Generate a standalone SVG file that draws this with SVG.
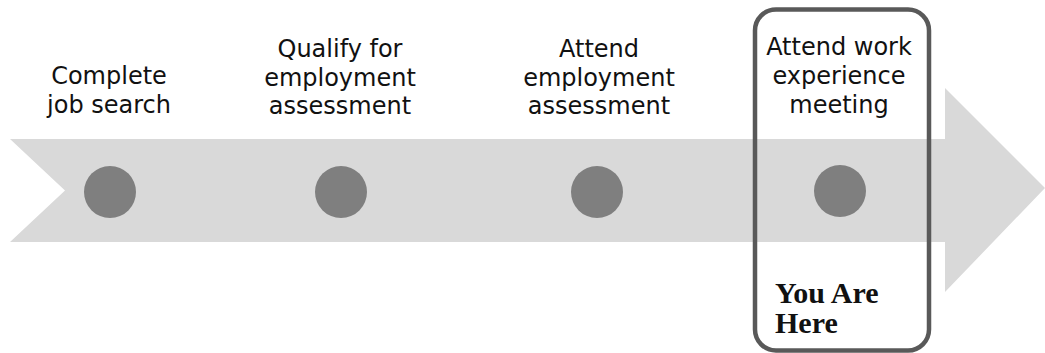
<svg xmlns="http://www.w3.org/2000/svg" width="1045" height="353" viewBox="0 0 1045 353">
<style>
.lbl{font-family:"DejaVu Sans","Open Sans",sans-serif;font-size:24px;fill:#111;text-anchor:middle}
.dot{fill:#7f7f7f}
.here{font-family:"Liberation Serif","Times New Roman",serif;font-size:30px;font-weight:bold;fill:#111}
</style>
<rect width="1045" height="353" fill="#fff"/>
<g id="connectors">
<polygon points="10,139 945,139 945,88 1045,188 945,292 945,242 10,242 65,190.5" fill="#d9d9d9"/>
</g>
<g id="step1">
<circle class="dot" cx="110" cy="192" r="26"/>
<text class="lbl" x="109" y="84">Complete</text>
<text class="lbl" x="109" y="113">job search</text>
</g>
<g id="step2">
<circle class="dot" cx="341" cy="192" r="26"/>
<text class="lbl" x="340" y="57">Qualify for</text>
<text class="lbl" x="340" y="85.5">employment</text>
<text class="lbl" x="340" y="114">assessment</text>
</g>
<g id="step3">
<circle class="dot" cx="597" cy="192" r="26"/>
<text class="lbl" x="599" y="57">Attend</text>
<text class="lbl" x="599" y="85.5">employment</text>
<text class="lbl" x="599" y="114">assessment</text>
</g>
<g id="step4">
<rect x="755" y="9.5" width="174" height="341" rx="21" fill="none" stroke="#595959" stroke-width="4.5"/>
<circle class="dot" cx="840" cy="191" r="26"/>
<text class="lbl" x="839" y="55">Attend work</text>
<text class="lbl" x="839" y="84">experience</text>
<text class="lbl" x="839" y="113">meeting</text>
<text class="here" x="775" y="303">You Are</text>
<text class="here" x="775" y="333">Here</text>
</g>
</svg>
